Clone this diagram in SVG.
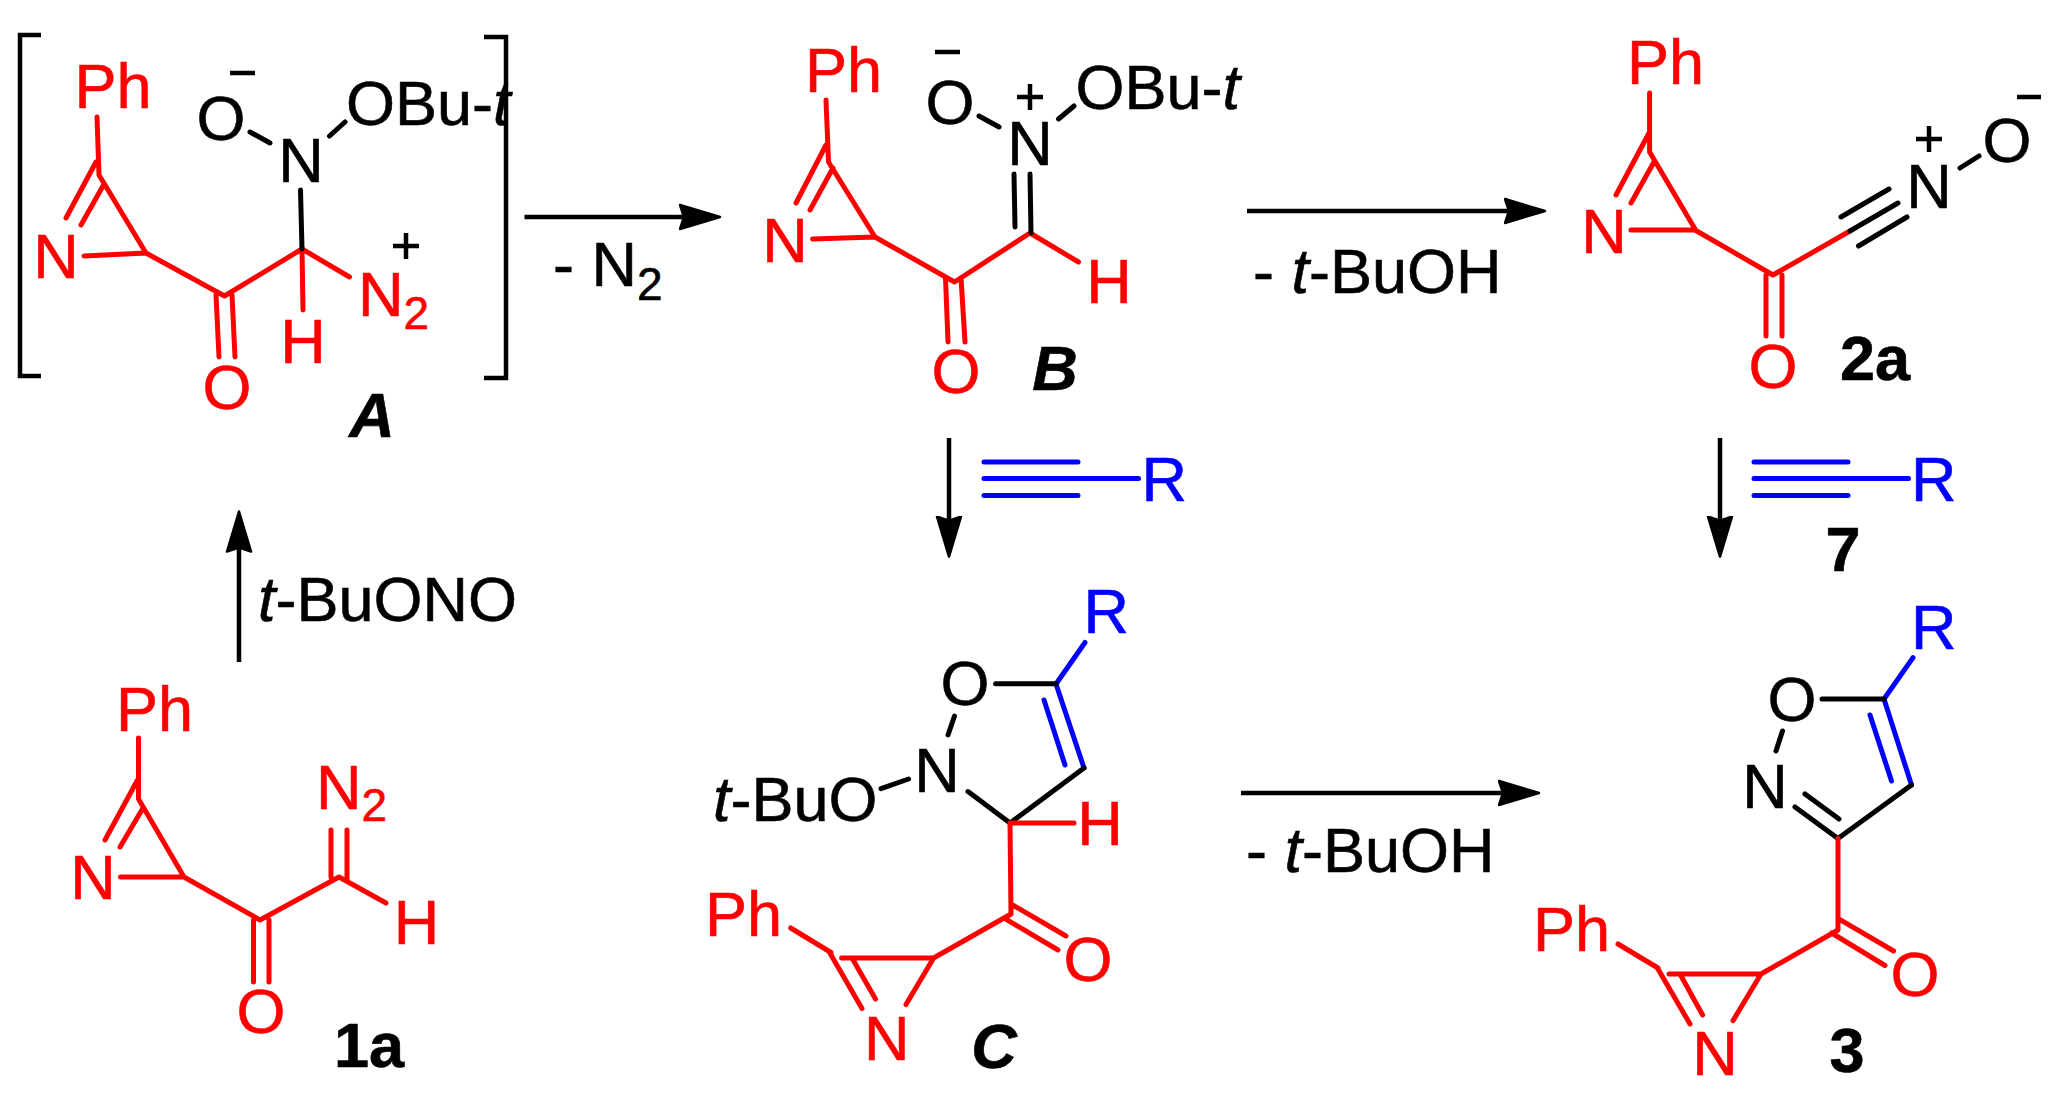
<svg xmlns="http://www.w3.org/2000/svg" width="2070" height="1108" viewBox="0 0 2070 1108">
<style>
text{font-family:"Liberation Sans",Arial,sans-serif;font-size:63px;stroke-width:.6px}
.r{fill:#f00;stroke:#f00}.k{fill:#000;stroke:#000}.b{fill:#00f;stroke:#00f}
.m{text-anchor:middle}
.s{font-size:46px}
.l{font-weight:bold;font-size:63px}
.i{font-style:italic}
.lr,.lk,.lb{fill:none;stroke-width:5;stroke-linecap:round;stroke-linejoin:round}
.lr{stroke:#f00}.lk{stroke:#000}.lb{stroke:#00f}
.a{fill:none;stroke:#000;stroke-width:4.5;marker-end:url(#h)}
.br{fill:none;stroke:#000;stroke-width:4.5}
</style>
<defs>
<marker id="h" markerUnits="userSpaceOnUse" markerWidth="50" markerHeight="32" refX="26" refY="16" orient="auto" viewBox="0 0 50 32">
<path d="M1,4 L41,16 L1,28 L5,16 Z" fill="#000" stroke="#000" stroke-width="2.500" stroke-linejoin="round"/>
</marker>
</defs>
<rect width="2070" height="1108" fill="#fff"/>

<g id="connectors">
<path class="a" d="M239,662 V526.500"/>
<path class="a" d="M524.500,217 H705"/>
<path class="a" d="M1247,211 H1530"/>
<path class="a" d="M949,438 V541.600"/>
<path class="a" d="M1720,438 V541.600"/>
<path class="a" d="M1241,793 H1524"/>
<text x="553" y="286" class="k">- N<tspan class="s" dy="14">2</tspan></text>
<text x="1253" y="293" class="k">- <tspan class="i">t</tspan>-BuOH</text>
<text x="1246" y="872" class="k">- <tspan class="i">t</tspan>-BuOH</text>
<text x="258" y="621" class="k"><tspan class="i">t</tspan>-BuONO</text>
</g>

<g id="node-A">
<path class="lr" d="M97,117 L99,175 L146,253 M84,256 L146,253 L224.500,296 L302,249 L349.500,277 M96,162 L66,218 M103.500,185 L81,225 M216,295 L219,357 M232,295 L235,357 M302,249 L303,310"/>
<path class="lk" d="M300.500,190 L302,249 M250,132 L270,143 M329.500,136 L345,122"/>
<text x="74.500" y="108" class="r">Ph</text>
<text x="56" y="278" class="r m">N</text>
<text x="227" y="409" class="r m">O</text>
<text x="303" y="363" class="r m">H</text>
<text x="358" y="316" class="r">N<tspan class="s" dy="13">2</tspan></text>
<text x="221" y="140" class="k m">O</text>
<text x="301" y="182" class="k m">N</text>
<text x="346" y="125" class="k">OBu-<tspan class="i">t</tspan></text>
<path class="br" d="M393,246 H419 M406,233 V259 M230,73 H255"/>
<path class="br" d="M41,35 H20 V376 H41 M484,37 H506 V378 H484"/>
<text x="372" y="437" class="k m l i">A</text>
</g>

<g id="node-B">
<path class="lr" d="M826,100 L828.500,162 L875,237 M812.500,239 L875,237 L954.500,282 L1030,233 L1078.500,262 M826,145 L796,203 M833,168 L810,210 M945.500,278 L948,342 M961,278 L965,342"/>
<path class="lk" d="M1014,174 L1015,227 M1030,174 L1031,233 M979,116 L999,127 M1058.500,119 L1074,106"/>
<text x="805" y="92" class="r">Ph</text>
<text x="785" y="262" class="r m">N</text>
<text x="956" y="393" class="r m">O</text>
<text x="1109" y="303" class="r m">H</text>
<text x="950" y="124" class="k m">O</text>
<text x="1030" y="165" class="k m">N</text>
<text x="1075.500" y="109" class="k">OBu-<tspan class="i">t</tspan></text>
<path class="br" d="M1017,97 H1043 M1030,84 V110 M935,52 H960"/>
<text x="1055" y="390" class="k m l i">B</text>
</g>

<g id="node-2a">
<path class="lr" d="M1649.600,93 V152 L1695,229 M1631,230 H1695 L1773,275 L1850,231 M1649,133 L1616,195 M1654,162 L1631,203 M1766,275 V336 M1782,275 V336"/>
<path class="lk" d="M1850,231 L1898,203 M1841,217 L1889,189 M1858.500,246 L1907,217 M1960,168 L1979,156"/>
<text x="1627" y="84" class="r">Ph</text>
<text x="1604" y="253" class="r m">N</text>
<text x="1773" y="388" class="r m">O</text>
<text x="1929" y="208" class="k m">N</text>
<text x="2007" y="162" class="k m">O</text>
<path class="br" d="M1916,139 H1942 M1929,126 V152 M2017,97 H2041"/>
<text x="1875" y="380" class="k m l">2a</text>
</g>

<g id="node-1a">
<path class="lr" d="M138.500,738 V799 L184,877 M120.500,877 H184 L260,920 L339,877 L386,903 M137.500,780 L105,840 M143,808 L120,847 M253.500,920 V982 M269,920 V982 M331,830 V877 M347,830 V880"/>
<text x="116" y="731" class="r">Ph</text>
<text x="93" y="899" class="r m">N</text>
<text x="416.500" y="944" class="r m">H</text>
<text x="261" y="1033" class="r m">O</text>
<text x="316" y="809" class="r">N<tspan class="s" dy="12">2</tspan></text>
<text x="369" y="1067" class="k m l">1a</text>
</g>

<g id="node-C">
<path class="lb" d="M984,462 H1078 M984,478.500 H1138.500 M984,495.500 H1078"/>
<text x="1141.500" y="501" class="b">R</text>
<path class="lb" d="M1056,684 L1085,642.500 M1056,684 L1084,768 M1044,700 L1065,765"/>
<text x="1083.500" y="633" class="b">R</text>
<path class="lk" d="M995.600,683.700 H1056 M1084,768 L1010,823 L968,791.600 M948,735 L954.500,716 M908.600,779 L881,788.600"/>
<path class="lr" d="M1010,823 H1074 M1010,823 L1011,914 L933.600,958 H841.600 M933.600,958 L906,1004.600 M829.600,952.500 L862,1008.500 M852,958 L875.500,999 M790.700,928 L831,952.500 M1012.600,905 L1066,936 M1005,918.700 L1058,950"/>
<text x="965" y="705" class="k m">O</text>
<text x="937" y="792" class="k m">N</text>
<text x="713" y="821" class="k"><tspan class="i">t</tspan>-BuO</text>
<text x="1100" y="845" class="r m">H</text>
<text x="1088" y="981" class="r m">O</text>
<text x="705" y="936" class="r">Ph</text>
<text x="886.700" y="1060" class="r m">N</text>
<text x="994" y="1068" class="k m l i">C</text>
</g>

<g id="node-3">
<path class="lb" d="M1754,462 H1848 M1754,478.500 H1908.500 M1754,495.500 H1848"/>
<text x="1911" y="501" class="b">R</text>
<text x="1843" y="571" class="k m l">7</text>
<path class="lb" d="M1884,699 L1913,657.600 M1884,699 L1911.500,785 M1870,715 L1891.500,781"/>
<text x="1911" y="649" class="b">R</text>
<path class="lk" d="M1822,699 H1884 M1911.500,785 L1838,838.500 L1795,807 M1839,819 L1805,794 M1776,751 L1782.500,731"/>
<path class="lr" d="M1838,838.500 V930 L1761,974 H1669 M1761,974 L1733,1020.600 M1657.700,968.600 L1690,1024 M1680,974 L1702.600,1015 M1618,944 L1658,968 M1840,919.600 L1893.600,951 M1831.600,933 L1885,965.500"/>
<text x="1792" y="721" class="k m">O</text>
<text x="1765" y="808" class="k m">N</text>
<text x="1915" y="996" class="r m">O</text>
<text x="1533" y="951" class="r">Ph</text>
<text x="1715" y="1075" class="r m">N</text>
<text x="1847" y="1072" class="k m l">3</text>
</g>
</svg>
